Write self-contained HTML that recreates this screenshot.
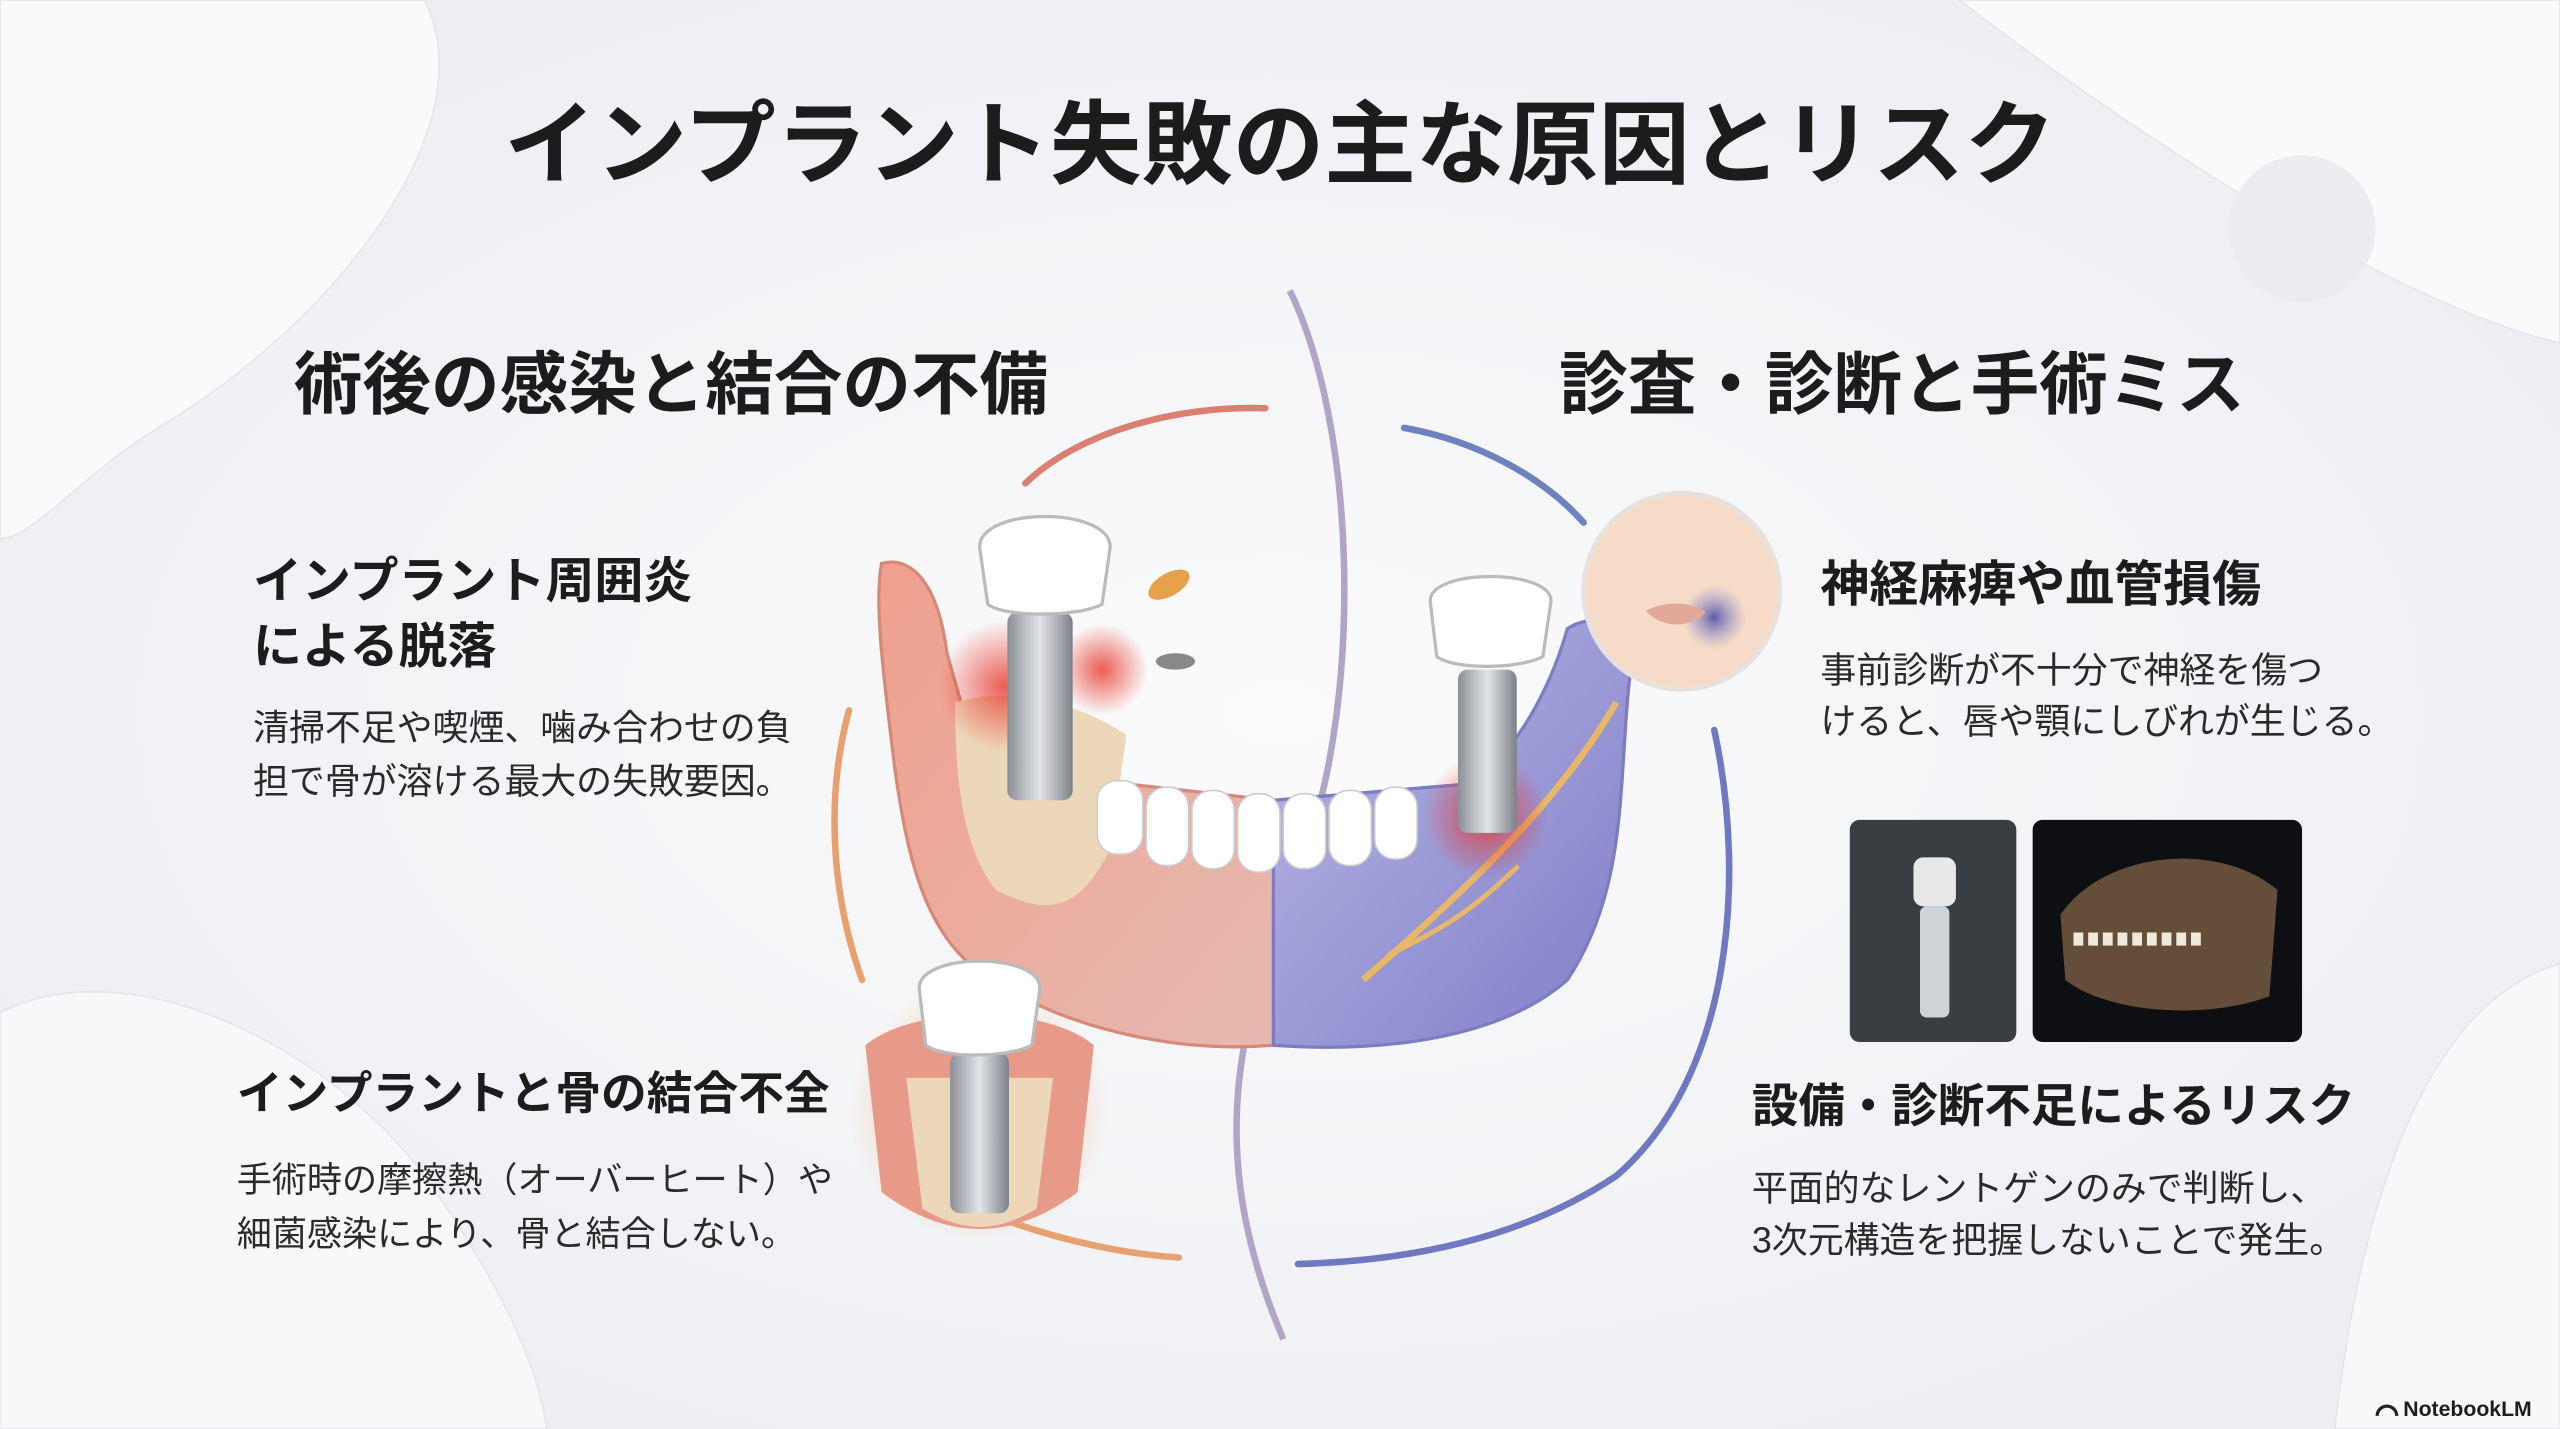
<!DOCTYPE html>
<html><head><meta charset="utf-8"><style>
html,body{margin:0;padding:0;width:2560px;height:1429px;overflow:hidden;background:#f2f3f6;}
svg{display:block}
text{font-family:"Liberation Sans","Noto Sans CJK JP",sans-serif;font-weight:bold;fill:#1c1c1c}
.b{font-weight:normal;fill:#2a2a2a}
</style></head><body>
<svg width="2560" height="1429" viewBox="0 0 1568 875" preserveAspectRatio="none">
<defs>
<radialGradient id="bg" cx="50%" cy="50%" r="60%"><stop offset="0" stop-color="#fbfbfc"/><stop offset="1" stop-color="#eceef2"/></radialGradient>
<linearGradient id="red" x1="0" y1="0" x2="1" y2="1"><stop offset="0" stop-color="#f0a08e"/><stop offset="1" stop-color="#e6b9b0"/></linearGradient>
<linearGradient id="blue" x1="0" y1="0" x2="1" y2="1"><stop offset="0" stop-color="#b9b8e4"/><stop offset="1" stop-color="#7f7dc8"/></linearGradient>
<linearGradient id="metal" x1="0" x2="1"><stop offset="0" stop-color="#8b8f96"/><stop offset=".5" stop-color="#e2e4e8"/><stop offset="1" stop-color="#7d8188"/></linearGradient>
<radialGradient id="glow"><stop offset="0" stop-color="#e8352a" stop-opacity=".8"/><stop offset="1" stop-color="#e8352a" stop-opacity="0"/></radialGradient>
<radialGradient id="oglow"><stop offset="0" stop-color="#f08a3a" stop-opacity=".8"/><stop offset="1" stop-color="#f5b070" stop-opacity="0"/></radialGradient>
<radialGradient id="pglow"><stop offset="0" stop-color="#4b4fa8" stop-opacity=".9"/><stop offset="1" stop-color="#8f8fd0" stop-opacity="0"/></radialGradient>
</defs>
<rect width="1568" height="875" fill="url(#bg)"/>
<path d="M0 0 H260 C300 80 200 200 100 260 C50 290 20 330 0 330Z" fill="#fafafb" stroke="#e4e6ea"/>
<path d="M1200 0 H1568 V210 C1480 190 1330 100 1200 0Z" fill="#fafafb" stroke="#e4e6ea"/>
<path d="M0 620 C80 580 200 640 260 720 C310 790 330 840 335 875 H0Z" fill="#f7f8f9" stroke="#e4e6ea"/>
<path d="M1568 590 C1500 610 1450 700 1430 875 H1568Z" fill="#f7f8f9" stroke="#e4e6ea"/>
<circle cx="1410" cy="140" r="45" fill="#ebedf0"/>

<text x="784" y="108" font-size="56" text-anchor="middle">インプラント失敗の主な原因とリスク</text>
<text x="180" y="250" font-size="42">術後の感染と結合の不備</text>
<text x="955" y="250" font-size="42">診査・診断と手術ミス</text>

<!-- arcs -->
<path d="M775 250 C720 248 660 265 628 296" fill="none" stroke="#d98070" stroke-width="4" stroke-linecap="round"/>
<path d="M520 435 C505 490 510 550 528 600" fill="none" stroke="#e8a070" stroke-width="4" stroke-linecap="round"/>
<path d="M610 745 C650 760 690 768 722 770" fill="none" stroke="#e8a070" stroke-width="4" stroke-linecap="round"/>
<path d="M860 262 C905 270 945 292 970 320" fill="none" stroke="#6f82c0" stroke-width="4" stroke-linecap="round"/>
<path d="M1050 447 C1070 540 1060 660 990 720 C930 760 860 772 795 774" fill="none" stroke="#6f78c0" stroke-width="4" stroke-linecap="round"/>
<path d="M790 178 C830 260 835 420 800 520 C760 620 735 700 786 820" fill="none" stroke="#b0a4c8" stroke-width="4"/>

<!-- jaw -->
<path d="M540 345 C560 340 575 360 580 400 L600 470 L780 490 L780 640 C720 645 650 630 600 595 C565 570 555 520 548 470 C542 420 535 370 540 345Z" fill="url(#red)" stroke="#d88878" stroke-width="2"/>
<path d="M780 490 L900 480 C930 460 950 420 960 385 C975 375 995 380 1000 400 C990 470 1000 540 960 600 C920 635 850 645 780 640Z" fill="url(#blue)" stroke="#7c7cc0" stroke-width="2"/>
<path d="M585 430 C620 420 660 430 690 450 L680 520 C660 560 640 560 610 545 C590 520 585 480 585 430Z" fill="#ecd7b8"/>
<g fill="#fff" stroke="#ccc">
<rect x="672" y="478" width="28" height="45" rx="12"/><rect x="702" y="482" width="26" height="48" rx="12"/><rect x="730" y="484" width="26" height="48" rx="12"/>
<rect x="758" y="486" width="26" height="48" rx="12"/><rect x="786" y="486" width="26" height="46" rx="12"/><rect x="814" y="484" width="26" height="46" rx="12"/><rect x="842" y="482" width="26" height="44" rx="12"/>
</g>
<path d="M835 600 C880 560 950 500 990 430" fill="none" stroke="#e8b868" stroke-width="4"/>
<path d="M850 585 C880 570 900 560 930 530" fill="none" stroke="#e8b868" stroke-width="3"/>
<circle cx="615" cy="420" r="40" fill="url(#glow)"/><circle cx="675" cy="410" r="28" fill="url(#glow)"/>
<circle cx="910" cy="500" r="38" fill="url(#glow)"/>
<!-- implant 1 -->
<rect x="617" y="375" width="40" height="115" rx="6" fill="url(#metal)"/>
<path d="M600 335 C600 310 680 310 680 335 L675 370 C660 378 615 378 605 370Z" fill="#fff" stroke="#bbb" stroke-width="2"/>
<!-- implant 2 -->
<rect x="893" y="410" width="36" height="100" rx="6" fill="url(#metal)"/>
<path d="M876 368 C876 348 950 348 950 368 L945 402 C930 410 890 410 880 402Z" fill="#fff" stroke="#bbb" stroke-width="2"/>
<!-- bacteria -->
<ellipse cx="716" cy="358" rx="14" ry="7" fill="#e6a24a" transform="rotate(-30 716 358)"/>
<ellipse cx="720" cy="405" rx="12" ry="5" fill="#888"/>
<!-- lower implant -->
<circle cx="600" cy="680" r="80" fill="url(#oglow)"/>
<path d="M530 640 C560 615 640 615 670 640 L660 730 C620 760 580 760 540 730Z" fill="#e89a88"/>
<path d="M555 660 L645 660 L635 740 C610 755 590 755 565 740Z" fill="#ecd7b8"/>
<rect x="582" y="645" width="36" height="98" rx="6" fill="url(#metal)"/>
<path d="M563 605 C563 583 637 583 637 605 L632 640 C617 648 577 648 567 640Z" fill="#fff" stroke="#bbb" stroke-width="2"/>
<!-- face -->
<circle cx="1030" cy="362" r="60" fill="#f6dcc8" stroke="#e8e0dc" stroke-width="3"/>
<circle cx="1050" cy="378" r="20" fill="url(#pglow)"/>
<path d="M1008 374 C1020 368 1035 368 1045 375 C1035 385 1018 385 1008 374Z" fill="#e2a89a"/>
<!-- xrays -->
<rect x="1133" y="502" width="102" height="136" rx="6" fill="#3a3d42"/>
<rect x="1172" y="525" width="26" height="30" rx="6" fill="#e8e8e8"/>
<rect x="1176" y="555" width="18" height="68" rx="4" fill="#cfd2d6"/>
<rect x="1245" y="502" width="165" height="136" rx="6" fill="#0e0f12"/>
<path d="M1262 560 C1290 520 1360 515 1395 545 L1390 610 C1350 625 1290 620 1265 600Z" fill="#8a6a4a" opacity=".7"/>
<path d="M1270 575 H1350" stroke="#f0e8d8" stroke-width="8" stroke-dasharray="6 3"/>

<text x="155" y="366" font-size="30">インプラント周囲炎</text>
<text x="155" y="406" font-size="30">による脱落</text>
<text class="b" x="155" y="453" font-size="22">清掃不足や喫煙、噛み合わせの負</text>
<text class="b" x="155" y="486" font-size="22">担で骨が溶ける最大の失敗要因。</text>
<text x="145" y="679" font-size="28">インプラントと骨の結合不全</text>
<text class="b" x="145" y="730" font-size="21.5">手術時の摩擦熱（オーバーヒート）や</text>
<text class="b" x="145" y="763" font-size="21.5">細菌感染により、骨と結合しない。</text>
<text x="1115" y="368" font-size="30">神経麻痺や血管損傷</text>
<text class="b" x="1115" y="418" font-size="22">事前診断が不十分で神経を傷つ</text>
<text class="b" x="1115" y="449" font-size="22">けると、唇や顎にしびれが生じる。</text>
<text x="1073" y="687" font-size="28.5">設備・診断不足によるリスク</text>
<text class="b" x="1073" y="735" font-size="22">平面的なレントゲンのみで判断し、</text>
<text class="b" x="1073" y="767" font-size="22">3次元構造を把握しないことで発生。</text>
<text x="1472" y="867" font-size="13">NotebookLM</text>
<path d="M1456 867 a6 6 0 0 1 12 0" fill="none" stroke="#222" stroke-width="2"/>
</svg>
</body></html>
